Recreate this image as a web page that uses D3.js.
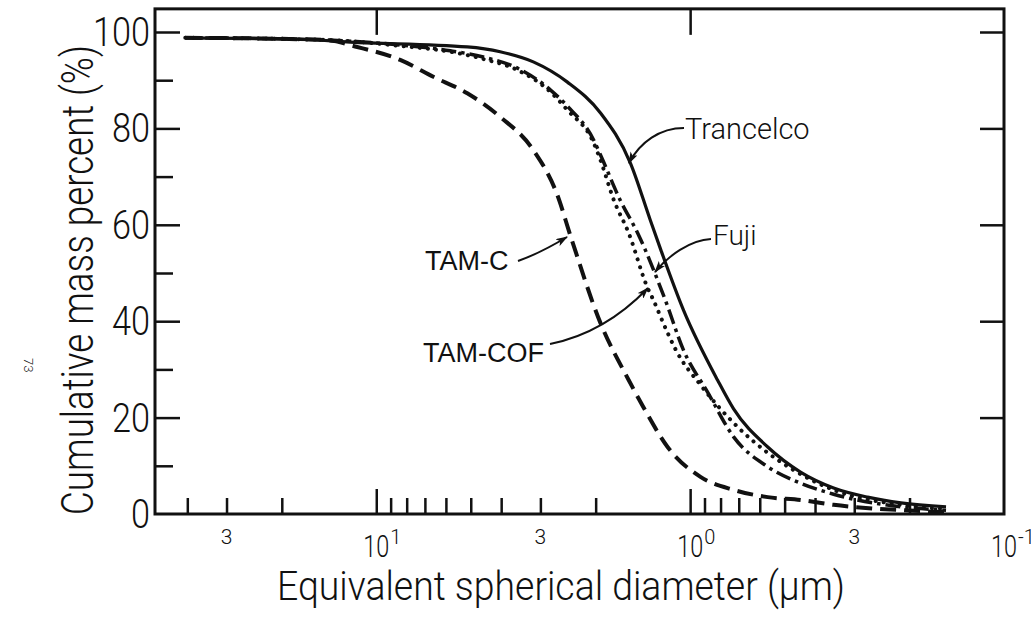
<!DOCTYPE html>
<html>
<head>
<meta charset="utf-8">
<script src="https://cdn.jsdelivr.net/npm/d3@7"></script>
<style>
  body { margin: 0; background: #fff; }
  svg { display: block; }
  text { font-family: Roboto, "Noto Sans", "DejaVu Sans", sans-serif; font-weight: 300; fill: #111; }
  .lbl { font-family: "Liberation Sans", Arial, sans-serif; font-weight: 400; }
</style>
</head>
<body>
<svg id="graph" width="1031" height="633"></svg>
<script>
// [diameter in um, cumulative mass percent]
var trancelco = [[40.6,98.8],[17.5,98.5],[12.1,97.9],[5.13,96.9],[4.03,95.9],[3.16,93.8],[2.46,89.6],
  [1.93,83.2],[1.55,72.8],[1.34,61.0],[1.24,54.8],[1.05,42.3],[0.818,27.8],
  [0.727,21.8],[0.566,13.9],[0.445,8.7],[0.349,5.4],[0.272,3.5],[0.213,2.3],[0.153,1.5]];
var fuji = [[40.6,98.8],[17.5,98.5],[12.1,98.1],[8.39,97.3],[5.81,96.1],[4.56,94.8],[3.55,92.5],
  [2.79,88.0],[2.46,84.6],[2.03,77.6],[1.93,74.5],[1.67,65.1],[1.47,58.3],[1.20,44.4],[1.05,34.0],
  [0.880,25.3],[0.727,16.0],[0.566,9.8],[0.445,6.4],[0.349,4.1],[0.213,1.5],[0.153,0.8]];
var tamCOF = [[40.6,98.8],[17.5,98.5],[12.1,98.1],[8.39,97.1],[5.81,95.9],[4.56,94.4],[3.55,92.1],
  [2.79,87.6],[2.46,83.8],[2.03,77.0],[1.93,73.4],[1.75,65.1],[1.57,58.3],[1.37,47.1],[1.31,44.4],
  [1.18,37.6],[1.11,34.0],[0.927,26.8],[0.727,18.9],[0.566,12.7],[0.468,9.1],[0.349,5.0],[0.213,1.9],[0.153,1.0]];
var tamC = [[40.6,98.8],[17.5,98.5],[14.3,98.3],[11.5,96.9],[8.39,94.2],[6.58,90.7],[5.13,87.3],
  [4.03,82.4],[3.16,75.5],[2.65,66.2],[2.40,57.5],[1.93,39.6],[1.57,27.8],[1.41,22.2],[1.18,13.9],
  [0.927,7.7],[0.727,5.0],[0.566,3.5],[0.445,2.9],[0.349,1.9],[0.213,0.8],[0.153,0.4]];

var xMinorTicks = [40,30,20,9,8,7,6,5,4,3,2,0.9,0.8,0.7,0.6,0.5,0.4,0.3,0.2];
var xMajorTicks = [10,1];
var xLabels = [[30,"3",""],[10,"10","1"],[3,"3",""],[1,"10","0"],[0.3,"3",""],[0.1,"10","-1"]];
var yMajorTicks = [20,40,60,80,100];
var yMinorTicks = [10,30,50,70,90];
var yLabels = [0,20,40,60,80,100];

var svg = d3.select("#graph");

var x = d3.scaleLog().domain([50.7, 0.1]).range([155, 1004]),
    y = d3.scaleLinear().domain([0, 100]).range([514, 32]);
var yTop = 104.8;

// frame
svg.append("rect")
   .attr("x", x(50.7)).attr("y", y(yTop))
   .attr("width", x(0.1) - x(50.7)).attr("height", y(0) - y(yTop))
   .attr("fill", "none").attr("stroke", "#111").attr("stroke-width", 3);

function ticks(g) {
  g.select(".domain").remove();
  g.selectAll("line").attr("stroke", "#111").attr("stroke-width", 2.5);
  g.selectAll("text").remove();
}

// bottom ticks (inward)
svg.append("g").attr("transform", "translate(0," + y(0) + ")")
   .call(d3.axisBottom(x).tickValues(xMinorTicks).tickSize(-16)).call(ticks);
svg.append("g").attr("transform", "translate(0," + y(0) + ")")
   .call(d3.axisBottom(x).tickValues(xMajorTicks).tickSize(-25)).call(ticks);
// top ticks
svg.append("g").attr("transform", "translate(0," + y(yTop) + ")")
   .call(d3.axisTop(x).tickValues(xMajorTicks).tickSize(-26)).call(ticks);
// left ticks
svg.append("g").attr("transform", "translate(" + x(50.7) + ",0)")
   .call(d3.axisLeft(y).tickValues(yMajorTicks).tickSize(-25)).call(ticks);
svg.append("g").attr("transform", "translate(" + x(50.7) + ",0)")
   .call(d3.axisLeft(y).tickValues(yMinorTicks).tickSize(-18)).call(ticks);
// right ticks
svg.append("g").attr("transform", "translate(" + x(0.1) + ",0)")
   .call(d3.axisRight(y).tickValues(yMajorTicks).tickSize(-24)).call(ticks);

// y labels
svg.selectAll(".ylab").data(yLabels).enter().append("text")
   .attr("class", "ylab")
   .attr("x", 150).attr("y", function(d) { return y(d) + 14; })
   .attr("text-anchor", "end")
   .attr("font-size", "40px")
   .attr("textLength", function(d) { return String(d).length * 19; })
   .attr("lengthAdjust", "spacingAndGlyphs")
   .text(function(d) { return d; });

// x labels
xLabels.forEach(function(l) {
  if (l[2] === "") {
    svg.append("text").attr("x", x(l[0])).attr("y", 544)
       .attr("text-anchor", "middle").attr("font-size", "21px").text(l[1]);
  } else {
    svg.append("text").attr("x", x(l[0]) - 13).attr("y", 557)
       .attr("font-size", "31px")
       .attr("textLength", 26).attr("lengthAdjust", "spacingAndGlyphs")
       .text(l[1]);
    svg.append("text").attr("x", x(l[0]) + 14).attr("y", 544)
       .attr("font-size", "20px")
       .text(l[2]);
  }
});

// axis titles
svg.append("text")
   .attr("x", 277).attr("y", 600)
   .attr("font-size", "41px")
   .attr("textLength", 568).attr("lengthAdjust", "spacingAndGlyphs")
   .text("Equivalent spherical diameter (\u03bcm)");

svg.append("text")
   .attr("transform", "translate(93,515) rotate(-90)")
   .attr("font-size", "45px")
   .attr("textLength", 470).attr("lengthAdjust", "spacingAndGlyphs")
   .text("Cumulative mass percent (%)");

// page number on the scan
svg.append("text")
   .attr("transform", "translate(24,358) rotate(90)")
   .attr("font-size", "13px").attr("fill", "#555")
   .text("73");

// curves
var line = d3.line()
  .x(function(d) { return x(d[0]); })
  .y(function(d) { return y(d[1]); })
  .curve(d3.curveMonotoneX);

svg.append("path").datum(tamC).attr("d", line)
   .attr("fill", "none").attr("stroke", "#111").attr("stroke-width", 4)
   .attr("stroke-dasharray", "16,8");
svg.append("path").datum(tamCOF).attr("d", line)
   .attr("fill", "none").attr("stroke", "#111").attr("stroke-width", 4)
   .attr("stroke-linecap", "round").attr("stroke-dasharray", "0.1,8");
svg.append("path").datum(fuji).attr("d", line)
   .attr("fill", "none").attr("stroke", "#111").attr("stroke-width", 3.5)
   .attr("stroke-dasharray", "15,5,3.5,5");
svg.append("path").datum(trancelco).attr("d", line)
   .attr("fill", "none").attr("stroke", "#111").attr("stroke-width", 3.2);

// arrows and series labels
svg.append("defs").append("marker")
   .attr("id", "arr").attr("viewBox", "0 0 12 8")
   .attr("refX", 11).attr("refY", 4)
   .attr("markerWidth", 12).attr("markerHeight", 8)
   .attr("markerUnits", "userSpaceOnUse")
   .attr("orient", "auto")
   .append("path").attr("d", "M0,0 L12,4 L0,8 L3,4 Z").attr("fill", "#111");

function arrow(d) {
  svg.append("path").attr("d", d).attr("fill", "none")
     .attr("stroke", "#111").attr("stroke-width", 2)
     .attr("marker-end", "url(#arr)");
}

arrow("M684,128 C660,128 640,142 629,163");
svg.append("text").attr("x", 685).attr("y", 139).attr("font-size", "29px").text("Trancelco");

arrow("M711,239 C690,240 668,256 655,272");
svg.append("text").attr("x", 713).attr("y", 245).attr("font-size", "28px").text("Fuji");

arrow("M518,261 C535,255 552,246 567,237");
svg.append("text").attr("class", "lbl").attr("x", 425).attr("y", 270).attr("font-size", "27px").text("TAM-C");

arrow("M550,344 C590,336 622,315 648,288");
svg.append("text").attr("class", "lbl").attr("x", 423).attr("y", 362).attr("font-size", "27px").text("TAM-COF");
</script>
</body>
</html>
